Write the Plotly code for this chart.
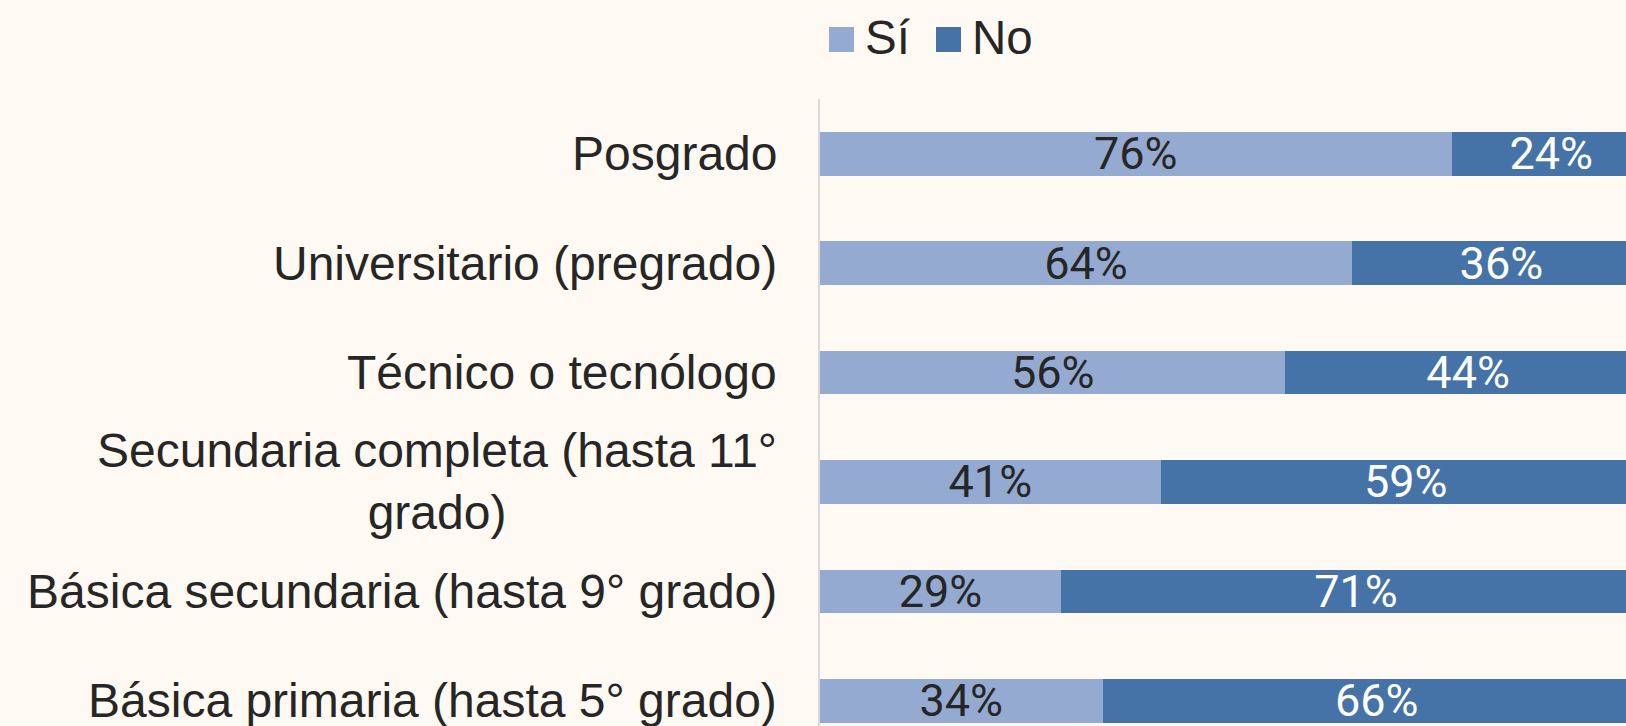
import plotly.graph_objects as go

# Education level, listed bottom to top as drawn
categories = [
    "Básica primaria (hasta 5° grado)",
    "Básica secundaria (hasta 9° grado)",
    "Secundaria completa (hasta 11°<br>grado)",
    "Técnico o tecnólogo",
    "Universitario (pregrado)",
    "Posgrado",
]
si_values = [34, 29, 41, 56, 64, 76]
no_values = [66, 71, 59, 44, 36, 24]
series_names = ["Sí", "No"]

SI_COLOR = "#95AAD0"
NO_COLOR = "#4673A7"
BG = "#FEF9F3"
TEXT = "#262626"
LABEL_FONT = "Liberation Sans, Arial"
VALUE_FONT = "Roboto, Liberation Sans, Arial"

W, H = 1626, 726
ML, MT = 820, 99
PW, PH = W - ML, H - MT


def px_x(x):
    return (x - ML) / PW


def px_y(y):
    return (H - y) / PH


ypos = list(range(len(categories)))

fig = go.Figure()
fig.add_trace(go.Bar(
    y=ypos, x=si_values, orientation="h", name=series_names[0],
    marker=dict(color=SI_COLOR, line=dict(width=0)),
    text=[f"{v}%" for v in si_values], textposition="inside",
    insidetextanchor="middle", constraintext="none",
    textfont=dict(family=VALUE_FONT, size=45, color=TEXT),
    showlegend=False,
))
fig.add_trace(go.Bar(
    y=ypos, x=no_values, orientation="h", name=series_names[1],
    marker=dict(color=NO_COLOR, line=dict(width=0)),
    text=[f"{v}%" for v in no_values], textposition="inside",
    insidetextanchor="middle", constraintext="none",
    textfont=dict(family=VALUE_FONT, size=45, color="white"),
    showlegend=False,
))

annotations = []
# category labels, right-aligned against the axis, lines centred
for yi, label in zip(ypos, categories):
    annotations.append(dict(
        x=px_x(779), xref="paper", y=yi, yref="y", text=label,
        xanchor="right", yanchor="middle", align="center", showarrow=False,
        font=dict(family=LABEL_FONT, size=48, color=TEXT),
    ))

# legend drawn as squares + labels
shapes = []
legend_items = [(series_names[0], SI_COLOR, 829, 863), (series_names[1], NO_COLOR, 936, 970)]
for name, color, sx, tx in legend_items:
    shapes.append(dict(
        type="rect", xref="paper", yref="paper",
        x0=px_x(sx), x1=px_x(sx + 25), y0=px_y(52), y1=px_y(27),
        fillcolor=color, line=dict(width=0),
    ))
    annotations.append(dict(
        x=px_x(tx), xref="paper", y=px_y(37), yref="paper", text=name,
        xanchor="left", yanchor="middle", showarrow=False,
        font=dict(family=LABEL_FONT, size=47.5, color=TEXT),
    ))

fig.update_layout(
    width=W, height=H, autosize=False,
    margin=dict(l=ML, r=0, t=MT, b=0, pad=0),
    paper_bgcolor=BG, plot_bgcolor=BG,
    barmode="stack", bargap=0.6,
    xaxis=dict(range=[0, 97], visible=False, fixedrange=True),
    yaxis=dict(
        range=[-0.23, 5.5], showticklabels=False, showgrid=False, zeroline=False,
        showline=True, linecolor="#D9D9D9", linewidth=2, ticks="",
    ),
    annotations=annotations, shapes=shapes,
)

fig.write_html("out.html")
